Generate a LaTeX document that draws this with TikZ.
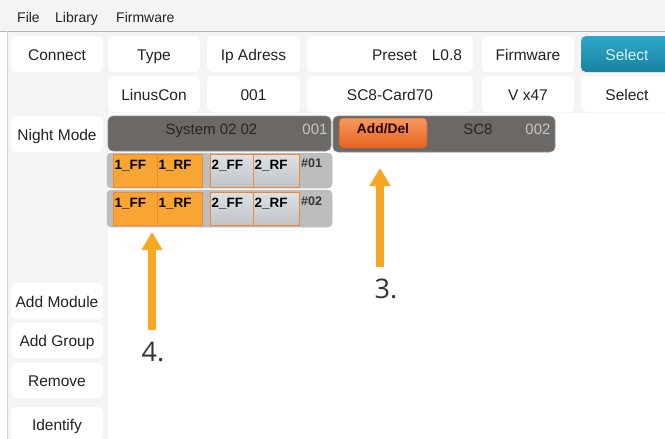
\documentclass[tikz,border=0pt]{standalone}
\usepackage{fontspec}
\setmainfont{Liberation Sans}
\newfontfamily\notefont{Open Sans}
\usetikzlibrary{arrows.meta}

\definecolor{panelgray}{HTML}{F4F4F4}
\definecolor{menuline}{HTML}{B4B4B4}
\definecolor{sideline}{HTML}{C9D9E9}
\definecolor{bardark}{HTML}{6B6866}
\definecolor{rowgray}{HTML}{BDBDBD}
\definecolor{cellorange}{HTML}{F9A533}
\definecolor{cellline}{HTML}{EF8A33}
\definecolor{pointorange}{HTML}{F7A823}
\definecolor{textdark}{HTML}{222222}
\definecolor{selecttop}{HTML}{31A6C8}
\definecolor{selectbot}{HTML}{1782A3}
\definecolor{addtop}{HTML}{F59A5E}
\definecolor{addbot}{HTML}{E8621F}
\definecolor{addline}{HTML}{B85A2A}
\definecolor{celltop}{HTML}{DDE1E5}
\definecolor{cellbot}{HTML}{BFC4C9}

\tikzset{
  btn/.style={fill=white, rounded corners=5pt, minimum width=92pt, minimum height=36pt,
    inner sep=0pt, text height=12pt, text depth=0pt, text=textdark,
    font=\fontsize{15.5}{18}\selectfont},
  menutxt/.style={anchor=base west, inner sep=0pt, text=textdark, font=\fontsize{14}{16}\selectfont},
  sysbar/.style={fill=bardark, draw=black!45, line width=0.6pt, rounded corners=5pt},
  bartxt/.style={inner sep=0pt, text height=11pt, text depth=0pt, font=\fontsize{15}{18}\selectfont},
  modrow/.style={fill=rowgray, draw=black!25, line width=0.5pt, rounded corners=4pt},
  cellon/.style={fill=cellorange, draw=cellline, line width=1pt, minimum width=44pt,
    minimum height=33pt, anchor=north west, inner sep=0pt},
  celloff/.style={top color=celltop, bottom color=cellbot, draw=cellline, line width=1pt,
    minimum width=44pt, minimum height=33pt, anchor=north west, inner sep=0pt},
  celltxt/.style={anchor=north west, inner xsep=1.5pt, inner ysep=6pt, text=black,
    font=\fontsize{13.5}{16}\bfseries\selectfont},
  rowtxt/.style={anchor=north west, inner sep=0pt, text=black!80,
    font=\fontsize{12.5}{15}\bfseries\selectfont},
  pointer/.style={draw=pointorange, line width=7.5pt, -{Triangle[width=20pt,length=18pt]}},
  notetxt/.style={inner sep=0pt, text=black!80, font=\notefont\fontsize{27}{30}\selectfont},
}

\begin{document}
\begin{tikzpicture}[x=1pt,y=-1pt]
\useasboundingbox (0,0) rectangle (665,439);

% window background
\fill[white] (0,0) rectangle (665,439);
\fill[panelgray] (0,0) rectangle (665,31);
\fill[panelgray] (7,31) rectangle (665,113);
\fill[panelgray] (7,113) rectangle (108,439);
\draw[menuline, line width=0.8pt] (0,31) -- (665,31);
\draw[sideline, line width=0.8pt] (7,31) -- (7,439);

% menu
\node[menutxt] (file) at (17,23) {File};
\node[menutxt] (library) at (55,23) {Library};
\node[menutxt] (firmware) at (116,23) {Firmware};

% first row
\node[btn] (connect) at (57,54) {Connect};
\node[btn] (type) at (154,54) {Type};
\node[btn, minimum width=93pt] (ip) at (253.5,54) {Ip Adress};
\node[btn, minimum width=166pt] (preset) at (390,54) {};
\node[anchor=east, inner sep=0pt, text height=12pt, text depth=0pt, text=textdark,
  font=\fontsize{15.5}{18}\selectfont]
  (presettxt) at ([xshift=-11pt]preset.east) {Preset\hspace{15pt}L0.8};
\node[btn, fill=none, top color=selecttop, bottom color=selectbot,
  text=white!85!cyan] (select1) at (627,54) {Select};
\node[btn] (fw) at (528,54) {Firmware};

% second row
\node[btn] (linus) at (154,94) {LinusCon};
\node[btn, minimum width=93pt] (addr) at (253.5,94) {001};
\node[btn, minimum width=166pt] (card) at (390,94) {SC8-Card70};
\node[btn] (version) at (528,94) {V x47};
\node[btn] (select2) at (627,94) {Select};

% left column
\node[btn] (night) at (57,134) {Night Mode};
\node[btn] (addmod) at (57,301) {Add Module};
\node[btn, minimum height=35pt] (addgrp) at (57,340.5) {Add Group};
\node[btn, minimum height=35pt] (remove) at (57,380.5) {Remove};
\node[btn, minimum height=34pt] (identify) at (57,424) {Identify};

% system bars
\draw[sysbar] (108,116) rectangle (331,151);
\node[bartxt, text=black!85] (sysname) at (211.5,129) {System 02 02};
\node[bartxt, text=black!22] (sysno) at (315,129) {001};
\draw[sysbar] (333,116) rectangle (555,152);
\node[btn, minimum width=88pt, minimum height=30pt, rounded corners=4pt, fill=none,
  top color=addtop, bottom color=addbot, draw=addline, line width=0.5pt,
  text height=10pt, text depth=9pt, text=black!85!red,
  font=\fontsize{13.8}{16}\bfseries\selectfont]
  (adddel) at (383,133) {Add/Del};
\node[bartxt, text=black!85] (sc8) at (478,129) {SC8};
\node[bartxt, text=black!22] (cardno) at (538,129) {002};

% module rows
\draw[modrow] (107,153) rectangle (332,188);
\draw[modrow] (107,190) rectangle (332,227);

\node[cellon] (a1) at (113,154) {};
\node[cellon, minimum width=45pt] (a2) at (157,154) {};
\node[celloff, minimum width=43pt] (a3) at (210,154) {};
\node[celloff, minimum width=46pt] (a4) at (253,154) {};
\node[celltxt] at (a1.north west) {1\_FF};
\node[celltxt] at (a2.north west) {1\_RF};
\node[celltxt] at (a3.north west) {2\_FF};
\node[celltxt] at (a4.north west) {2\_RF};
\node[rowtxt] (row1) at (301,159) {\#01};

\node[cellon] (b1) at (113,192) {};
\node[cellon, minimum width=45pt] (b2) at (157,192) {};
\node[celloff, minimum width=43pt] (b3) at (210,192) {};
\node[celloff, minimum width=46pt] (b4) at (253,192) {};
\node[celltxt] at (b1.north west) {1\_FF};
\node[celltxt] at (b2.north west) {1\_RF};
\node[celltxt] at (b3.north west) {2\_FF};
\node[celltxt] at (b4.north west) {2\_RF};
\node[rowtxt] (row2) at (301,197) {\#02};

% pointers
\node[notetxt] (n3) at (386,289) {3.};
\node[notetxt] (n4) at (153,352) {4.};
\coordinate (t3) at (380,267);
\coordinate (h3) at (380,168);
\coordinate (t4) at (152,330);
\coordinate (h4) at (152,232);
\path[pointer] (t3) -- (h3);
\path[pointer] (t4) -- (h4);
\end{tikzpicture}
\end{document}
